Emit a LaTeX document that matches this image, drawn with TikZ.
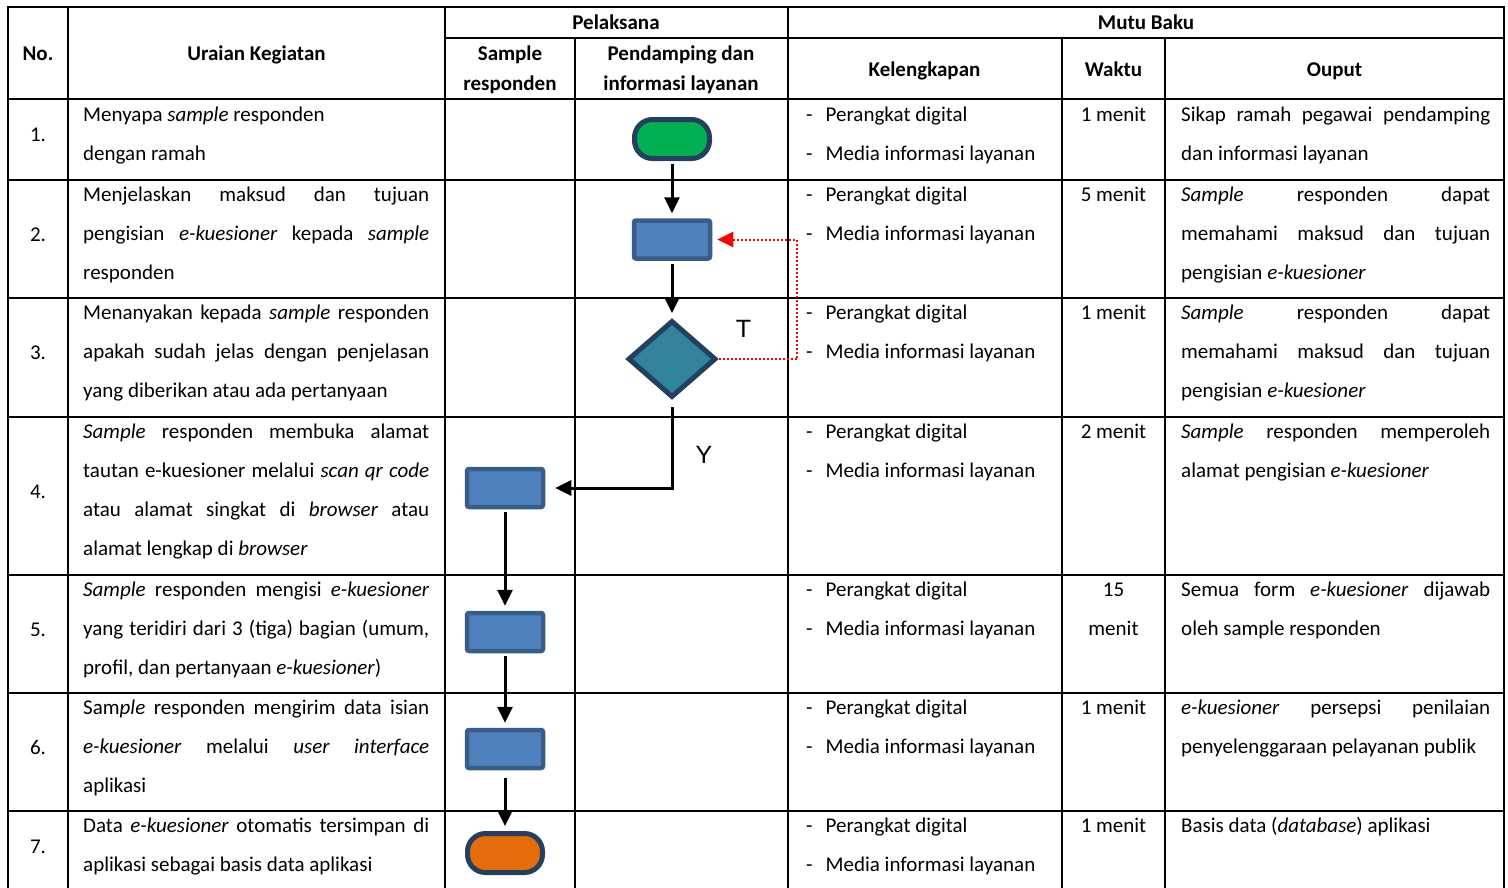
\documentclass[tikz,border=0pt]{standalone}
\usepackage{fontspec}
\setmainfont{Carlito}
\newfontfamily\arialf{Liberation Sans}
\usetikzlibrary{arrows.meta,shapes.geometric}
\definecolor{tgreen}{HTML}{00B050}
\definecolor{tnavy}{HTML}{243F60}
\definecolor{tblue}{HTML}{4F81BD}
\definecolor{tblueb}{HTML}{385D8A}
\definecolor{tteal}{HTML}{31849B}
\definecolor{torange}{HTML}{E46C0A}
\newcommand\Jl[5]{\node[txt] (#1) at (#2,#3) {\makebox[#4pt][s]{#5}};}
\newcommand\Ll[4]{\node[txt] (#1) at (#2,#3) {#4};}
\begin{document}
\begin{tikzpicture}[x=1pt,y=-1pt,
 grid/.style={line width=2pt, line cap=rect},
 txt/.style={anchor=base west, inner sep=0pt, font=\fontsize{21}{25}\selectfont},
 ctxt/.style={txt, anchor=base},
 hdr/.style={anchor=base, inner sep=0pt, font=\fontsize{21}{25}\selectfont\bfseries},
 term/.style={rectangle, rounded corners=18pt, minimum width=75pt, minimum height=39pt, inner sep=0pt, line width=5pt, draw=tnavy},
 proc/.style={rectangle, rounded corners=2pt, minimum width=76pt, minimum height=38pt, inner sep=0pt, line width=4.5pt, draw=tblueb, fill=tblue},
 dec/.style={diamond, minimum width=88pt, minimum height=77pt, inner sep=0pt, line width=5pt, draw=tnavy, fill=tteal},
 arr/.style={line width=3pt, -{Triangle[length=16pt,width=15pt]}, shorten <=3pt, shorten >=5pt},
 fb/.style={red, line width=2pt, dash pattern=on 2pt off 2pt, -{Triangle[length=16pt,width=15pt]}},
 lbl/.style={anchor=base, inner sep=0pt, font=\arialf\fontsize{25}{30}\selectfont}
]
\useasboundingbox (0,0) rectangle (1508,887);
\fill[white] (0,0) rectangle (1508,887);

% table grid
\draw[grid] (8,7) -- (1504,7);
\draw[grid] (445,38) -- (1504,38);
\foreach \y in {99,180,298,417,575,693,811} \draw[grid] (8,\y) -- (1504,\y);
\foreach \x in {8,68,445,787.5,1504} \draw[grid] (\x,7) -- (\x,892);
\foreach \x in {575,1062,1165} \draw[grid] (\x,38) -- (\x,892);

% headers
\node[hdr] (hno) at (38,60) {No.};
\node[hdr] (hur) at (256.5,60) {Uraian Kegiatan};
\node[hdr] (hpl) at (616,29) {Pelaksana};
\node[hdr] (hsa) at (510,60) {Sample};
\node[hdr] (hsb) at (510,90) {responden};
\node[hdr] (hpa) at (681,60) {Pendamping dan};
\node[hdr] (hpb) at (681,90) {informasi layanan};
\node[hdr] (hmb) at (1146,29) {Mutu Baku};
\node[hdr] (hke) at (924.5,76) {Kelengkapan};
\node[hdr] (hwa) at (1113.5,76) {Waktu};
\node[hdr] (hou) at (1334.5,76) {Ouput};

% numbers
\node[ctxt] (n1) at (38,141.5) {1.};
\node[ctxt] (n2) at (38,241) {2.};
\node[ctxt] (n3) at (38,359.5) {3.};
\node[ctxt] (n4) at (38,498) {4.};
\node[ctxt] (n5) at (38,636) {5.};
\node[ctxt] (n6) at (38,754) {6.};
\node[ctxt] (n7) at (38,853) {7.};

% Uraian Kegiatan
\Ll{u1a}{83}{121.5}{Menyapa \textit{sample} responden}
\Ll{u1b}{83}{160.5}{dengan ramah}
\Jl{u2a}{83}{201.5}{346}{Menjelaskan maksud dan tujuan}
\Jl{u2b}{83}{240.5}{346}{pengisian \textit{e-kuesioner} kepada \textit{sample}}
\Ll{u2c}{83}{279.5}{responden}
\Jl{u3a}{83}{319.5}{346}{Menanyakan kepada \textit{sample} responden}
\Jl{u3b}{83}{358.5}{346}{apakah sudah jelas dengan penjelasan}
\Ll{u3c}{83}{397.5}{yang diberikan atau ada pertanyaan}
\Jl{u4a}{83}{438.5}{346}{\textit{Sample} responden membuka alamat}
\Jl{u4b}{83}{477.5}{346}{tautan e-kuesioner melalui \textit{scan qr code}}
\Jl{u4c}{83}{516.5}{346}{atau alamat singkat di \textit{browser} atau}
\Ll{u4d}{83}{555.5}{alamat lengkap di \textit{browser}}
\Jl{u5a}{83}{596.5}{346}{\textit{Sample} responden mengisi \textit{e-kuesioner}}
\Jl{u5b}{83}{635.5}{346}{yang teridiri dari 3 (tiga) bagian (umum,}
\Ll{u5c}{83}{674.5}{profil, dan pertanyaan \textit{e-kuesioner})}
\Jl{u6a}{83}{714.5}{346}{Sam\textit{ple} responden mengirim data isian}
\Jl{u6b}{83}{753.5}{346}{\textit{e-kuesioner} melalui \textit{user} \textit{interface}}
\Ll{u6c}{83}{792.5}{aplikasi}
\Jl{u7a}{83}{832.5}{346}{Data \textit{e-kuesioner} otomatis tersimpan di}
\Ll{u7b}{83}{871.5}{aplikasi sebagai basis data aplikasi}

% Kelengkapan
\foreach \t [count=\i] in {100,180,298,417,575,693,811} {
  \node[txt] (ka\i) at (806,\t+21.5) {\makebox[19.5pt][l]{-}Perangkat digital};
  \node[txt] (kb\i) at (806,\t+60.5) {\makebox[19.5pt][l]{-}Media informasi layanan};
}

% Waktu
\node[ctxt] (w1) at (1113.5,121.5) {1 menit};
\node[ctxt] (w2) at (1113.5,201.5) {5 menit};
\node[ctxt] (w3) at (1113.5,319.5) {1 menit};
\node[ctxt] (w4) at (1113.5,438.5) {2 menit};
\node[ctxt] (w5a) at (1113.5,596.5) {15};
\node[ctxt] (w5b) at (1113.5,635.5) {menit};
\node[ctxt] (w6) at (1113.5,714.5) {1 menit};
\node[ctxt] (w7) at (1113.5,832.5) {1 menit};

% Ouput
\Jl{o1a}{1181}{121.5}{309}{Sikap ramah pegawai pendamping}
\Ll{o1b}{1181}{160.5}{dan informasi layanan}
\Jl{o2a}{1181}{201.5}{309}{\textit{Sample} responden dapat}
\Jl{o2b}{1181}{240.5}{309}{memahami maksud dan tujuan}
\Ll{o2c}{1181}{279.5}{pengisian \textit{e-kuesioner}}
\Jl{o3a}{1181}{319.5}{309}{\textit{Sample} responden dapat}
\Jl{o3b}{1181}{358.5}{309}{memahami maksud dan tujuan}
\Ll{o3c}{1181}{397.5}{pengisian \textit{e-kuesioner}}
\Jl{o4a}{1181}{438.5}{309}{\textit{Sample} responden memperoleh}
\Ll{o4b}{1181}{477.5}{alamat pengisian \textit{e-kuesioner}}
\Jl{o5a}{1181}{596.5}{309}{Semua form \textit{e-kuesioner} dijawab}
\Ll{o5b}{1181}{635.5}{oleh sample responden}
\Jl{o6a}{1181}{714.5}{309}{\textit{e-kuesioner} persepsi penilaian}
\Ll{o6b}{1181}{753.5}{penyelenggaraan pelayanan publik}
\Ll{o7a}{1181}{832.5}{Basis data (\textit{database}) aplikasi}

% flowchart
\node[term, fill=tgreen] (st) at (672,139) {};
\node[proc] (b2) at (672,239.5) {};
\node[dec] (d3) at (672,359) {};
\node[proc] (b4) at (505,488) {};
\node[proc] (b5) at (505,632) {};
\node[proc] (b6) at (505,749) {};
\node[term, fill=torange] (en) at (505,853) {};
\coordinate (rc) at (797,300);

\draw[arr] (st) -- (b2);
\draw[arr] (b2) -- (d3);
\draw[arr, shorten <=7pt, shorten >=10pt] (d3.south) |- (b4.east);
\draw[arr] (b4) -- (b5);
\draw[arr] (b5) -- (b6);
\draw[arr, shorten <=8pt] (b6) -- (en);
\draw[fb, shorten >=5pt] (d3.east) -| (rc) |- (b2.east);

\node[lbl] (lt) at (743.5,337) {T};
\node[lbl] (ly) at (704,463) {Y};
\end{tikzpicture}
\end{document}
